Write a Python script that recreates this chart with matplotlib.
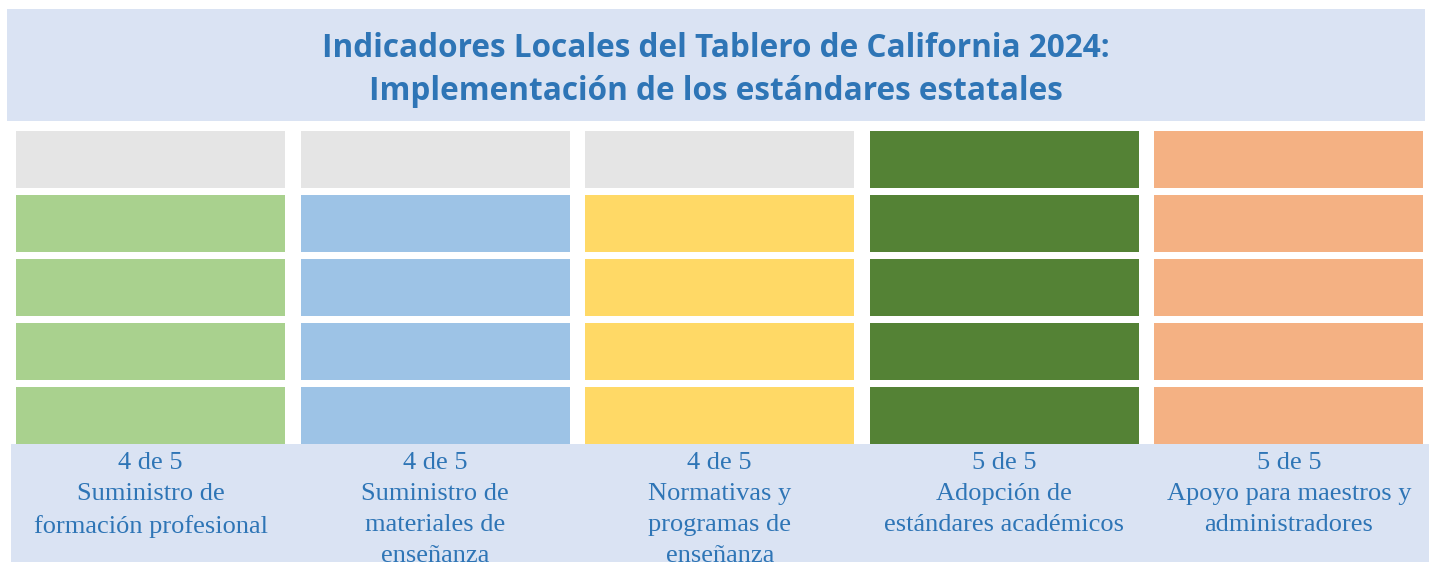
import numpy as np
import matplotlib.pyplot as plt
from matplotlib.patches import Rectangle

# Data
labels = ['Suministro de\nformación profesional',
          'Suministro de\nmateriales de\nenseñanza',
          'Normativas y\nprogramas de\nenseñanza',
          'Adopción de\nestándares académicos',
          'Apoyo para maestros y\nadministradores']
scores = [4, 4, 4, 5, 5]
max_score = 5
fill_colors = ['#A9D18E', '#9DC3E6', '#FFD966', '#548235', '#F4B183']
empty_color = '#E5E5E5'
title = 'Indicadores Locales del Tablero de California 2024:\nImplementación de los estándares estatales'

W, H = 1432, 562
fig = plt.figure(figsize=(W / 100, H / 100), dpi=100)
ax = fig.add_axes([0, 0, 1, 1])
pitch = 284.6
ax.set_xlim(-150.5 / pitch, (W - 150.5) / pitch)
ax.set_ylim(-(H - 444) / 64, 444 / 64)
ax.axis('off')

x = np.arange(len(scores))
for level in range(max_score):
    colors = [c if s > level else empty_color for c, s in zip(fill_colors, scores)]
    ax.bar(x, 57 / 64, bottom=level, width=269 / pitch, color=colors,
           align='center', linewidth=0, zorder=1)

# title box
ax.add_patch(Rectangle((7 / W, 1 - 121 / H), 1418 / W, 112 / H,
                       transform=fig.transFigure, facecolor='#DAE3F3',
                       edgecolor='none', zorder=0))
fig.text(716 / W, 1 - 70 / H, title, ha='center', va='center',
         fontsize=22.7, fontweight='bold', color='#2E75B6',
         family='Open Sans', linespacing=1.4)

# label box
ax.add_patch(Rectangle((11 / W, 0), 1418 / W, 118 / H,
                       transform=fig.transFigure, facecolor='#DAE3F3',
                       edgecolor='none', zorder=2))
for i, (lab, s) in enumerate(zip(labels, scores)):
    ax.text(i, -8 / 64, f'{s} de {max_score}\n{lab}', ha='center', va='top',
            fontsize=19, color='#2E75B6', family='Liberation Serif',
            linespacing=1.53, zorder=3, clip_on=True)

fig.savefig('out.png', dpi=100)
